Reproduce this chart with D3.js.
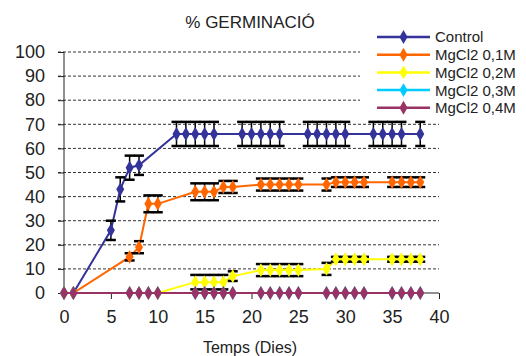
<!DOCTYPE html>
<html>
<head>
<meta charset="utf-8">
<script src="https://cdn.jsdelivr.net/npm/d3@7"></script>
<style>
  body { margin: 0; background: #fff; }
  text { font-family: "Liberation Sans", Arial, sans-serif; fill: #222; }
</style>
</head>
<body>
<div id="chart"></div>
<script>
// data
var ctrlDays = [0,1,5,6,7,8,12,13,14,15,16,19,20,21,22,23,26,27,28,29,30,33,34,35,36,38];
var ctrlVals = [0,0,26,43,52,53,66,66,66,66,66,66,66,66,66,66,66,66,66,66,66,66,66,66,66,66];
var ctrlErr  = [0,0,4,5,5,4,5,5,5,5,5,5,5,5,5,5,5,5,5,5,5,5,5,5,5,5];

var saltDays = [0,1,7,8,9,10,14,15,16,17,18,21,22,23,24,25,28,29,30,31,32,35,36,37,38];
var mg01Vals = [0,0,15,19,37,37,42,42,42,44,44,45,45,45,45,45,45,46,46,46,46,46,46,46,46];
var mg01Err  = [0,0,1.5,2.5,3.5,3.5,3.5,3.5,3.5,2.5,2.5,2.5,2.5,2.5,2.5,2.5,2.5,2,2,2,2,2,2,2,2];
var mg02Vals = [0,0,0,0,0,0,4.5,4.5,4.5,4.5,7,9.5,9.5,9.5,9.5,9.5,10,14,14,14,14,14,14,14,14];
var mg02Err  = [0,0,0,0,0,0,3,3,3,3,2,2.5,2.5,2.5,2.5,2.5,2.5,1,1,1,1,1,1,1,1];
var mg03Vals = [0,0,0,0,0,0,0,0,0,0,0,0,0,0,0,0,0,0,0,0,0,0,0,0,0];
var mg04Vals = [0,0,0,0,0,0,0,0,0,0,0,0,0,0,0,0,0,0,0,0,0,0,0,0,0];

var seriesNames = ["Control", "MgCl2 0,1M", "MgCl2 0,2M", "MgCl2 0,3M", "MgCl2 0,4M"];
var seriesColors = ["#333399", "#ff6600", "#ffff00", "#00ccff", "#993366"];
var xTicks = [0,5,10,15,20,25,30,35,40];
var yTicks = [0,10,20,30,40,50,60,70,80,90,100];

var width = 526, height = 356;
var svg = d3.select("#chart").append("svg")
    .attr("width", width)
    .attr("height", height);

var x = d3.scaleLinear().domain([0, 40]).range([64, 439]);
var y = d3.scaleLinear().domain([0, 100]).range([293, 52]);

// grid lines (dashed)
svg.append("g")
  .selectAll("line")
  .data(yTicks.filter(function(d){ return d > 0; }))
  .enter().append("line")
    .attr("x1", 58)
    .attr("x2", x(40))
    .attr("y1", function(d){ return y(d); })
    .attr("y2", function(d){ return y(d); })
    .attr("stroke", "#333")
    .attr("stroke-width", 1)
    .attr("stroke-dasharray", "3,2");

// y axis
var yAxis = svg.append("g")
    .attr("transform", "translate(" + x(0) + ",0)")
    .call(d3.axisLeft(y).tickValues(yTicks).tickSize(6).tickPadding(13));
yAxis.select(".domain").attr("stroke", "#222").attr("d", "M0," + y(0) + "V" + y(100));
yAxis.selectAll(".tick line").attr("stroke", "#222");
yAxis.selectAll("text").style("font-size", "18px").attr("fill", "#222");

// x axis
var xAxis = svg.append("g")
    .attr("transform", "translate(0," + y(0) + ")")
    .call(d3.axisBottom(x).tickValues(xTicks).tickSize(6).tickPadding(11));
xAxis.select(".domain").attr("stroke", "#222").attr("d", "M" + x(0) + ",0H" + x(40));
xAxis.selectAll(".tick line").attr("stroke", "#222");
xAxis.selectAll("text").style("font-size", "18px").attr("fill", "#222");

var series = [
  {days: ctrlDays, vals: ctrlVals, err: ctrlErr},
  {days: saltDays, vals: mg01Vals, err: mg01Err},
  {days: saltDays, vals: mg02Vals, err: mg02Err},
  {days: saltDays, vals: mg03Vals, err: null},
  {days: saltDays, vals: mg04Vals, err: null}
];

var line = d3.line()
    .x(function(d){ return x(d[0]); })
    .y(function(d){ return y(d[1]); });

var diamond = d3.symbol().type(d3.symbolDiamond).size(56);

series.forEach(function(s, i) {
  var pts = s.days.map(function(d, j){ return [d, s.vals[j], s.err ? s.err[j] : 0]; });
  var g = svg.append("g");
  g.append("path")
    .attr("d", line(pts))
    .attr("fill", "none")
    .attr("stroke", seriesColors[i])
    .attr("stroke-width", 2);
  // error bars
  var eb = g.selectAll(".eb").data(pts.filter(function(p){ return p[2] > 0; }))
    .enter().append("g");
  eb.append("line")
    .attr("x1", function(p){ return x(p[0]); })
    .attr("x2", function(p){ return x(p[0]); })
    .attr("y1", function(p){ return y(p[1] - p[2]); })
    .attr("y2", function(p){ return y(p[1] + p[2]); })
    .attr("stroke", "#000").attr("stroke-width", 1.5);
  [-1, 1].forEach(function(sg) {
    eb.append("line")
      .attr("x1", function(p){ return x(p[0]) - 5; })
      .attr("x2", function(p){ return x(p[0]) + 5; })
      .attr("y1", function(p){ return y(p[1] + sg * p[2]); })
      .attr("y2", function(p){ return y(p[1] + sg * p[2]); })
      .attr("stroke", "#000").attr("stroke-width", 2.5);
  });
  g.selectAll(".pt").data(pts)
    .enter().append("path")
    .attr("transform", function(p){ return "translate(" + x(p[0]) + "," + y(p[1]) + ")"; })
    .attr("d", diamond)
    .attr("fill", seriesColors[i]);
});

// legend
var leg = svg.append("g");
leg.append("rect")
  .attr("x", 360).attr("y", 0)
  .attr("width", 166).attr("height", 116)
  .attr("fill", "#fff");
seriesNames.forEach(function(name, i) {
  var ly = 37 + i * 17.7;
  leg.append("line")
    .attr("x1", 377).attr("x2", 430)
    .attr("y1", ly).attr("y2", ly)
    .attr("stroke", seriesColors[i]).attr("stroke-width", 2.5);
  leg.append("path")
    .attr("transform", "translate(403.5," + ly + ")")
    .attr("d", diamond)
    .attr("fill", seriesColors[i]);
  leg.append("text")
    .attr("x", 435).attr("y", ly)
    .attr("dy", "0.36em")
    .style("font-size", "15px")
    .text(name);
});

// title and axis label
svg.append("text")
  .attr("x", 250).attr("y", 28)
  .attr("text-anchor", "middle")
  .style("font-size", "17px")
  .text("% GERMINACIÓ");

svg.append("text")
  .attr("x", 250).attr("y", 353)
  .attr("text-anchor", "middle")
  .style("font-size", "16px")
  .text("Temps (Dies)");
</script>
</body>
</html>
